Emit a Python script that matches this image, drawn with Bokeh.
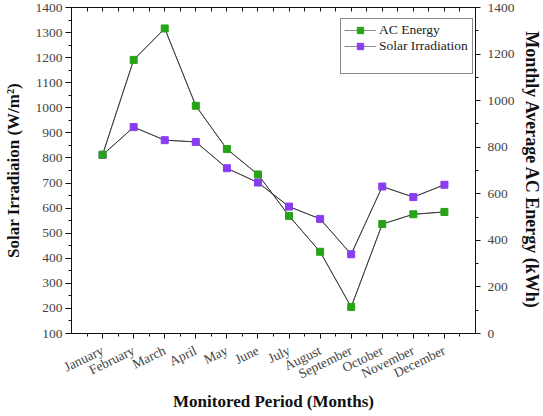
from bokeh.plotting import figure
from bokeh.models import (Range1d, LinearAxis, FixedTicker, SingleIntervalTicker,
                          Legend, LegendItem)
from bokeh.embed import file_html
from bokeh.resources import INLINE

months = ["January", "February", "March", "April", "May", "June", "July",
          "August", "September", "October", "November", "December"]
month_pos = list(range(1, 13))
solar_irradiation = [812, 923, 871, 864, 759, 702, 606, 557, 416, 686, 644, 693]
ac_energy = [768, 1175, 1310, 978, 792, 683, 505, 351, 114, 470, 512, 522]

GREEN = "#26a316"
PURPLE = "#8a3cf0"
FONT = "Liberation Serif"
LINE = "#3a3a3a"

p = figure(frame_width=404, frame_height=326, output_backend="svg", toolbar_location=None,
           x_range=Range1d(0, 13), y_range=Range1d(100, 1400),
           min_border_left=64, min_border_right=0, min_border_top=7,
           min_border_bottom=0)
p.extra_y_ranges = {"energy": Range1d(0, 1400)}
p.grid.visible = False
p.outline_line_color = "#111111"
p.background_fill_color = "white"
p.border_fill_color = "white"

half_ticks = [m - 0.5 for m in month_pos] + [12.5]

def style_axis(ax):
    ax.axis_line_color = "#111111"
    ax.major_tick_line_color = "#111111"
    ax.minor_tick_line_color = "#111111"
    ax.major_label_text_font = FONT
    ax.major_label_text_font_size = "13.5px"
    ax.major_label_text_color = "#444444"
    ax.axis_label_text_font = FONT
    ax.axis_label_text_font_style = "bold"
    ax.axis_label_text_color = "#111111"

# bottom axis
xa = p.xaxis[0]
xa.ticker = FixedTicker(ticks=month_pos, minor_ticks=half_ticks)
xa.major_label_overrides = {m: name for m, name in zip(month_pos, months)}
xa.major_label_orientation = 0.45
xa.major_tick_out = 5
xa.major_tick_in = 0
xa.minor_tick_out = 3
xa.minor_tick_in = 0
xa.major_label_standoff = 11
xa.axis_label = "Monitored Period (Months)"
style_axis(xa)
xa.axis_label_text_font_size = "17px"
xa.axis_label_standoff = 1

# left axis
ya = p.yaxis[0]
ya.ticker = SingleIntervalTicker(interval=100, num_minor_ticks=2)
ya.major_tick_out = 6
ya.major_tick_in = 0
ya.minor_tick_out = 3
ya.minor_tick_in = 0
ya.major_label_standoff = 3
ya.axis_label = "Solar Irradiaion (W/m²)"
style_axis(ya)
ya.axis_label_text_font_size = "17px"
ya.axis_label_standoff = 10

# right axis
ra = LinearAxis(y_range_name="energy",
                ticker=SingleIntervalTicker(interval=200, num_minor_ticks=2))
ra.major_tick_out = 5
ra.major_tick_in = 0
ra.minor_tick_out = 3
ra.minor_tick_in = 0
ra.major_label_standoff = 7
ra.axis_label = "Monthly Average AC Energy (kWh)"
style_axis(ra)
ra.axis_label_text_font_size = "18px"
ra.axis_label_standoff = 4
p.add_layout(ra, "right")

# top axis (ticks only, inward, no labels)
ta = LinearAxis(ticker=FixedTicker(ticks=[], minor_ticks=half_ticks + month_pos))
ta.major_tick_in = 0
ta.major_tick_out = 0
ta.minor_tick_in = 4
ta.minor_tick_out = 0
ta.major_label_standoff = 0
ta.axis_line_color = "#111111"
ta.minor_tick_line_color = "#111111"
p.add_layout(ta, "above")

# data
solar_legend_line = p.line(month_pos, solar_irradiation, line_color="#8c8c8c", line_width=1)
energy_legend_line = p.line(month_pos, ac_energy, line_color="#8c8c8c", line_width=1,
                            y_range_name="energy")
p.line(month_pos, solar_irradiation, line_color=LINE, line_width=1)
p.line(month_pos, ac_energy, line_color=LINE, line_width=1, y_range_name="energy")
solar_mk = p.scatter(month_pos, solar_irradiation, marker="square", size=7,
                     fill_color=PURPLE, line_color=PURPLE)
energy_mk = p.scatter(month_pos, ac_energy, marker="square", size=7,
                      fill_color=GREEN, line_color=GREEN, y_range_name="energy")
blank = p.line(month_pos, solar_irradiation, line_alpha=0)

legend = Legend(items=[
    LegendItem(label="AC Energy", renderers=[energy_legend_line, energy_mk]),
    LegendItem(label="Solar Irradiation", renderers=[solar_legend_line, solar_mk]),
    LegendItem(label=" ", renderers=[blank]),
], location=(269, 259))
legend.border_line_color = "#111111"
legend.border_line_width = 1
legend.background_fill_color = "white"
legend.background_fill_alpha = 1
legend.label_text_font = FONT
legend.label_text_font_size = "13.5px"
legend.label_text_color = "#222222"
legend.glyph_width = 32
legend.glyph_height = 16
legend.label_height = 16
legend.label_width = 90
legend.spacing = 0
legend.padding = 3
legend.label_standoff = 3
legend.margin = 0
p.add_layout(legend, "center")

open("out.html", "w").write(file_html(p, INLINE))
